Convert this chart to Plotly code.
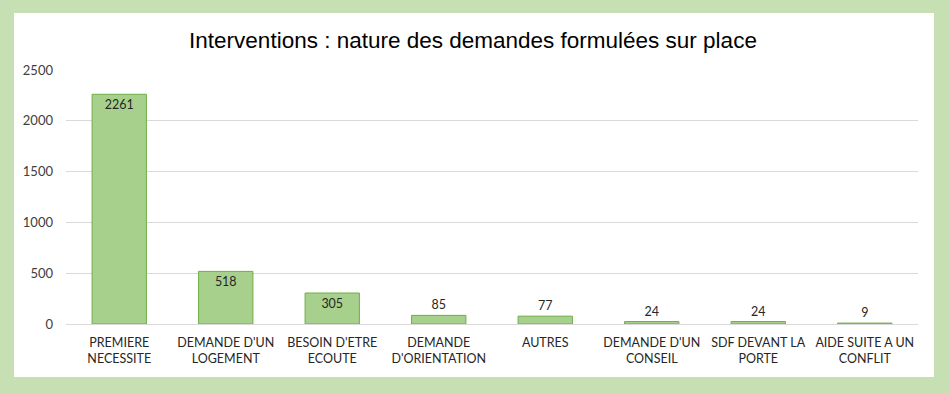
import plotly.graph_objects as go

categories = ["PREMIERE<br>NECESSITE", "DEMANDE D'UN<br>LOGEMENT", "BESOIN D'ETRE<br>ECOUTE",
              "DEMANDE<br>D'ORIENTATION", "AUTRES", "DEMANDE D'UN<br>CONSEIL",
              "SDF DEVANT LA<br>PORTE", "AIDE SUITE A UN<br>CONFLIT"]
values = [2261, 518, 305, 85, 77, 24, 24, 9]
positions = ["inside", "inside", "inside", "outside", "outside", "outside", "outside", "outside"]

W, H = 949, 394
L, R, T, B = 66, 31, 70, 70
pw = W - L - R
ph = H - T - B
FONT = "Lato, Carlito, Open Sans, sans-serif"

fig = go.Figure(go.Bar(
    x=categories, y=values, text=[str(v) for v in values],
    textposition=positions, insidetextanchor="end",
    textfont=dict(family=FONT, size=12.5, color="#262626"),
    marker=dict(color="#a8d08d", line=dict(color="#70ad47", width=1)),
    cliponaxis=False,
))

fig.add_shape(type="rect", xref="paper", yref="paper",
              x0=(14 - L) / pw, x1=(934 - L) / pw,
              y0=(H - B - 377) / ph, y1=(H - B - 13) / ph,
              fillcolor="white", line=dict(width=0), layer="below")

fig.update_layout(
    width=W, height=H,
    margin=dict(l=L, r=R, t=T, b=B),
    paper_bgcolor="#c6e0b4", plot_bgcolor="white",
    bargap=0.49, showlegend=False,
    title=dict(text="Interventions : nature des demandes formulées sur place",
               x=473 / W, xref="container", y=1 - 40 / H, yref="container",
               yanchor="middle", xanchor="center",
               font=dict(family="Liberation Sans, Arial, sans-serif", size=22.5, color="#000000")),
    font=dict(family=FONT, size=12.5, color="#404040"),
)
fig.update_xaxes(showline=True, linecolor="#d9d9d9", linewidth=1, ticks="",
                 tickfont=dict(family=FONT, size=12.5, color="#262626"), fixedrange=True,
                 ticklabelstandoff=7)
fig.update_yaxes(range=[0, 2500], dtick=500, gridcolor="#d9d9d9", gridwidth=1,
                 zeroline=False, ticks="", tickfont=dict(family=FONT, size=13, color="#404040"),
                 ticklabelstandoff=12, fixedrange=True)

fig.write_html("out.html", config={"displayModeBar": False},
               post_script="document.body.style.margin='0';")
